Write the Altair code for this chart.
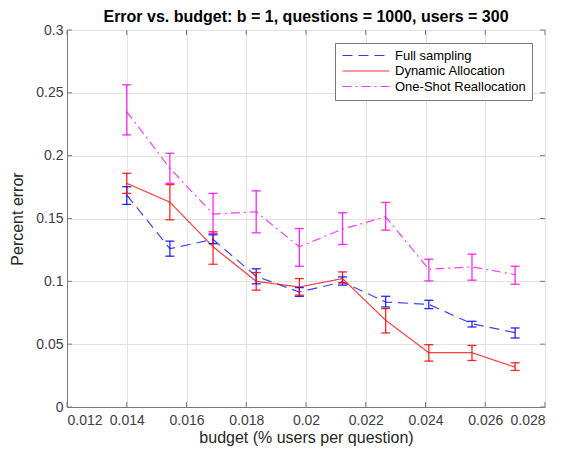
import altair as alt
import pandas as pd

budget = [0.014, 0.015444, 0.016889, 0.018333, 0.019778, 0.021222, 0.022667, 0.024111, 0.025556, 0.027]
series_names = ["Full sampling", "Dynamic Allocation", "One-Shot Reallocation"]

full_mean = [0.1687, 0.126, 0.1333, 0.104, 0.0915, 0.0995, 0.0835, 0.0817, 0.0663, 0.0592]
full_lo = [0.1612, 0.120, 0.130, 0.098, 0.088, 0.097, 0.0796, 0.0783, 0.0637, 0.0549]
full_hi = [0.1753, 0.132, 0.137, 0.110, 0.095, 0.1035, 0.0881, 0.0849, 0.0682, 0.0629]

dyn_mean = [0.178, 0.163, 0.1275, 0.100, 0.0955, 0.1022, 0.069, 0.0432, 0.0432, 0.0317]
dyn_lo = [0.170, 0.149, 0.1136, 0.093, 0.089, 0.0987, 0.0589, 0.0365, 0.037, 0.0291]
dyn_hi = [0.186, 0.177, 0.1394, 0.107, 0.1022, 0.1075, 0.0783, 0.0496, 0.049, 0.0352]

one_mean = [0.2351, 0.190, 0.1535, 0.1553, 0.1275, 0.1415, 0.1514, 0.1096, 0.1115, 0.1054]
one_lo = [0.2165, 0.178, 0.138, 0.1386, 0.112, 0.1293, 0.1407, 0.1003, 0.1009, 0.0977]
one_hi = [0.2564, 0.2019, 0.170, 0.172, 0.142, 0.1546, 0.1628, 0.1176, 0.1216, 0.112]

x_ticks = [0.012, 0.014, 0.016, 0.018, 0.02, 0.022, 0.024, 0.026, 0.028]
y_ticks = [0, 0.05, 0.1, 0.15, 0.2, 0.25, 0.3]

W, H = 478, 377
FONT = "Liberation Sans"

rows = []
for name, m, lo, hi in [
    (series_names[0], full_mean, full_lo, full_hi),
    (series_names[1], dyn_mean, dyn_lo, dyn_hi),
    (series_names[2], one_mean, one_lo, one_hi),
]:
    for b, mm, l, h in zip(budget, m, lo, hi):
        rows.append({"budget": b, "series": name, "mean": mm, "lo": l, "hi": h})
df = pd.DataFrame(rows)

xscale = alt.Scale(domain=[0.012, 0.028], nice=False, zero=False)
yscale = alt.Scale(domain=[0, 0.3], nice=False, zero=False)
cscale = alt.Scale(domain=series_names, range=["#0000ff", "#ff0000", "#ff00ff"])
dscale = alt.Scale(domain=series_names, range=[[10, 6], [1, 0], [9, 4, 2, 4]])

xaxis = alt.Axis(values=x_ticks, format="~g", title="budget (% users per question)")
yaxis = alt.Axis(values=y_ticks, format="~g", title="Percent error")

base = alt.Chart(df)

lines = base.mark_line(strokeWidth=1.2, opacity=0.75).encode(
    x=alt.X("budget:Q", scale=xscale, axis=xaxis),
    y=alt.Y("mean:Q", scale=yscale, axis=yaxis),
    color=alt.Color("series:N", scale=cscale, legend=alt.Legend(title=None)),
    strokeDash=alt.StrokeDash("series:N", scale=dscale, legend=alt.Legend(title=None)),
    detail="series:N",
)

cnoleg = alt.Color("series:N", scale=cscale, legend=None)

bars = base.mark_rule(strokeWidth=1.3, opacity=0.85).encode(
    x=alt.X("budget:Q", scale=xscale),
    y=alt.Y("lo:Q", scale=yscale),
    y2="hi:Q",
    color=cnoleg,
)
cap_lo = base.mark_tick(orient="horizontal", size=9, thickness=1.3, opacity=0.85).encode(
    x=alt.X("budget:Q", scale=xscale),
    y=alt.Y("lo:Q", scale=yscale),
    color=cnoleg,
)
cap_hi = base.mark_tick(orient="horizontal", size=9, thickness=1.3, opacity=0.85).encode(
    x=alt.X("budget:Q", scale=xscale),
    y=alt.Y("hi:Q", scale=yscale),
    color=cnoleg,
)

xt = alt.Chart(pd.DataFrame({"v": x_ticks}))
yt = alt.Chart(pd.DataFrame({"v": y_ticks}))
tick_color = "#7a7a7a"
xt_bot = xt.mark_rule(color=tick_color).encode(
    x=alt.X("v:Q", scale=xscale), y=alt.value(H), y2=alt.value(H - 5))
xt_top = xt.mark_rule(color=tick_color).encode(
    x=alt.X("v:Q", scale=xscale), y=alt.value(0), y2=alt.value(5))
yt_left = yt.mark_rule(color=tick_color).encode(
    y=alt.Y("v:Q", scale=yscale), x=alt.value(0), x2=alt.value(5))
yt_right = yt.mark_rule(color=tick_color).encode(
    y=alt.Y("v:Q", scale=yscale), x=alt.value(W), x2=alt.value(W - 5))

chart = alt.layer(
    xt_bot, xt_top, yt_left, yt_right, lines, bars, cap_lo, cap_hi
).properties(
    width=W,
    height=H,
    title=alt.TitleParams(
        "Error vs. budget: b = 1, questions = 1000, users = 300",
        fontSize=16, fontWeight="bold", font=FONT, color="black",
        anchor="middle", frame="group", offset=-2,
    ),
    autosize=alt.AutoSizeParams(type="none"),
    padding={"left": 59, "top": 22, "right": 12, "bottom": 39},
).configure_view(
    stroke="#7a7a7a", strokeWidth=1,
).configure_axis(
    ticks=False,
    domainColor="#7a7a7a",
    gridColor="#e3e3e3",
    gridWidth=1,
    labelFont=FONT,
    labelFontSize=14,
    labelColor="#404040",
    titleFont=FONT,
    titleFontSize=16,
    titleFontWeight="normal",
    titleColor="#262626",
    labelPadding=4,
).configure_axisX(
    labelPadding=6,
    titlePadding=2,
).configure_axisY(
    titlePadding=10,
).configure_legend(
    orient="none",
    legendX=268,
    legendY=13,
    strokeColor="#7a7a7a",
    fillColor="white",
    padding=6,
    cornerRadius=0,
    symbolType="M-1,0H8.4",
    symbolSize=100,
    symbolStrokeWidth=1.2,
    symbolOpacity=0.8,
    labelFont=FONT,
    labelFontSize=13,
    labelColor="black",
    rowPadding=1.5,
    labelOffset=41,
)

chart.save("out.html", embed_options={"renderer": "svg", "actions": False})
